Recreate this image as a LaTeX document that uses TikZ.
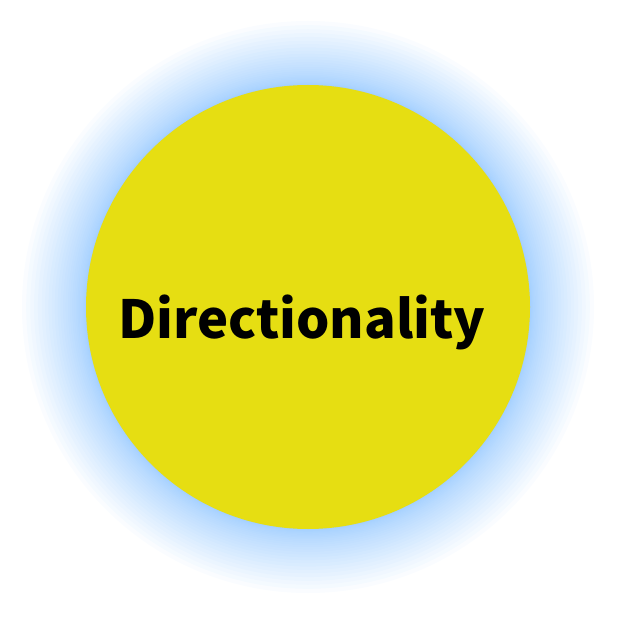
\documentclass[tikz,border=0pt]{standalone}
\usepackage{fontspec}
\newfontfamily\labelfont{Noto Sans CJK SC}
\usepackage{xcolor}
\usetikzlibrary{positioning,backgrounds}
\definecolor{discyellow}{RGB}{230,222,18}
\definecolor{glowblue}{RGB}{120,185,255}

\begin{document}
\begin{tikzpicture}[x=1pt, y=1pt,
  disc/.style={circle, fill=discyellow, minimum size=444pt, inner sep=0pt, outer sep=0pt},
  title/.style={font=\labelfont\bfseries\fontsize{52.5}{52.5}\selectfont, inner sep=0pt},
  glow/.style={fill=glowblue, fill opacity=0.038, draw=none},
]
\useasboundingbox (0,0) rectangle (617,616);

% glow ring behind the disc
\foreach \r in {0,...,30}
  \fill[glow] (308,309) circle[radius=222+64*(\r/30)^2];

\node[disc] (disc) at (308,309) {};
\node[title, below=15pt of disc.center, anchor=center, xshift=-6pt] (name) {Directionality};

\end{tikzpicture}
\end{document}
